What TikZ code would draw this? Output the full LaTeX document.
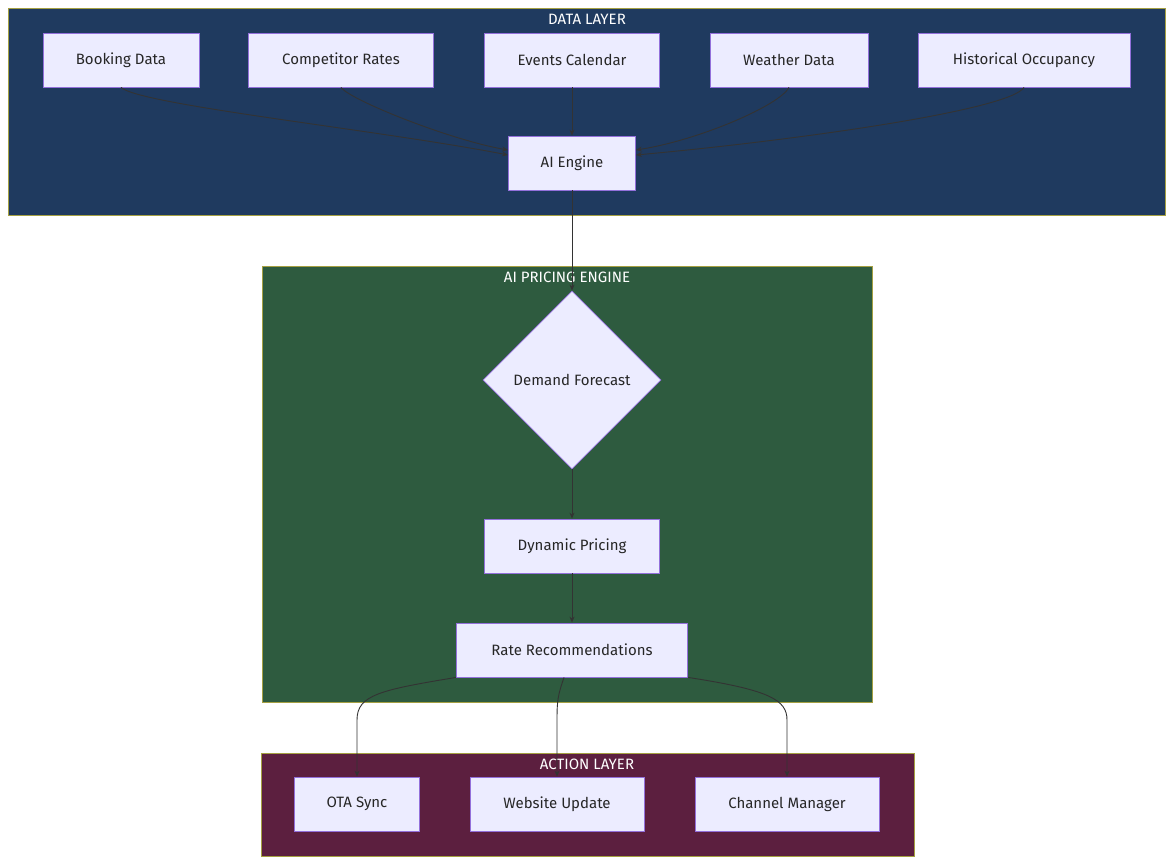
\documentclass[tikz,border=0pt]{standalone}
\usepackage{fontspec}
\setmainfont{Fira Sans}
\usetikzlibrary{shapes.geometric,arrows.meta}
\definecolor{nodefill}{HTML}{ECECFF}
\definecolor{nodeline}{HTML}{9370DB}
\definecolor{dataC}{HTML}{1F3A5F}
\definecolor{aiC}{HTML}{2E5B3F}
\definecolor{actC}{HTML}{5C1F3F}
\definecolor{edgeC}{HTML}{333333}
\begin{document}
\begin{tikzpicture}[x=1pt,y=-1pt,
  box/.style={draw=nodeline,fill=nodefill,line width=0.8pt,minimum height=54pt,inner sep=0pt,font=\fontsize{15}{18}\selectfont,text=black!85},
  dia/.style={diamond,draw=nodeline,fill=nodefill,line width=0.8pt,minimum width=178pt,minimum height=178pt,inner sep=0pt,font=\fontsize{15}{18}\selectfont,text=black!85},
  grp/.style={draw=yellow!60!black,line width=0.8pt},
  ttl/.style={text=white,font=\fontsize{15}{18}\selectfont},
  e/.style={draw=edgeC,line width=0.9pt,-{Stealth[length=6pt,width=5pt]}}]
\useasboundingbox[fill=white] (0,0) rectangle (1173,865);
\draw[grp,fill=dataC] (8,8) rectangle (1165,215);
\draw[grp,fill=aiC] (262,266) rectangle (872,702);
\draw[grp,fill=actC] (261,753) rectangle (914,856);
\node[ttl] (t1) at (587,19) {DATA LAYER};
\node[ttl] (t2) at (567,277) {AI PRICING ENGINE};
\node[ttl] (t3) at (587,764) {ACTION LAYER};
\node[box,minimum width=156pt] (bd) at (121,60) {Booking Data};
\node[box,minimum width=185pt] (cr) at (341,60) {Competitor Rates};
\node[box,minimum width=175pt] (ec) at (572,60) {Events Calendar};
\node[box,minimum width=158pt] (wd) at (789,60) {Weather Data};
\node[box,minimum width=212pt] (ho) at (1024,60) {Historical Occupancy};
\node[box,minimum width=127pt] (ai) at (572,163) {AI Engine};
\node[dia] (df) at (572,380) {Demand Forecast};
\node[box,minimum width=175pt] (dp) at (572,546) {Dynamic Pricing};
\node[box,minimum width=231pt] (rr) at (572,650) {Rate Recommendations};
\node[box,minimum width=125pt] (ota) at (357,804) {OTA Sync};
\node[box,minimum width=174pt] (wu) at (557,804) {Website Update};
\node[box,minimum width=184pt] (cm) at (787,804) {Channel Manager};
\draw[e] (bd.south) .. controls (140,105) and (380,130) .. (ai.west |- 0,155);
\draw[e] (cr.south) .. controls (350,100) and (450,140) .. (ai.west |- 0,150);
\draw[e] (ec) -- (ai);
\draw[e] (wd.south) .. controls (780,105) and (700,140) .. (ai.east |- 0,150);
\draw[e] (ho.south) .. controls (1010,110) and (800,140) .. (ai.east |- 0,155);
\draw[e] (ai) -- (df.north);
\draw[e] (df) -- (dp);
\draw[e] (dp) -- (rr);
\draw[e] (rr.south west) ++(0,0) .. controls (380,690) and (357,695) .. (357,720) -- (ota.north);
\draw[e] ([xshift=-8pt]rr.south) .. controls (558,695) and (557,700) .. (557,720) -- (wu.north);
\draw[e] (rr.south east) .. controls (770,690) and (787,700) .. (787,720) -- (cm.north);
\end{tikzpicture}
\end{document}
